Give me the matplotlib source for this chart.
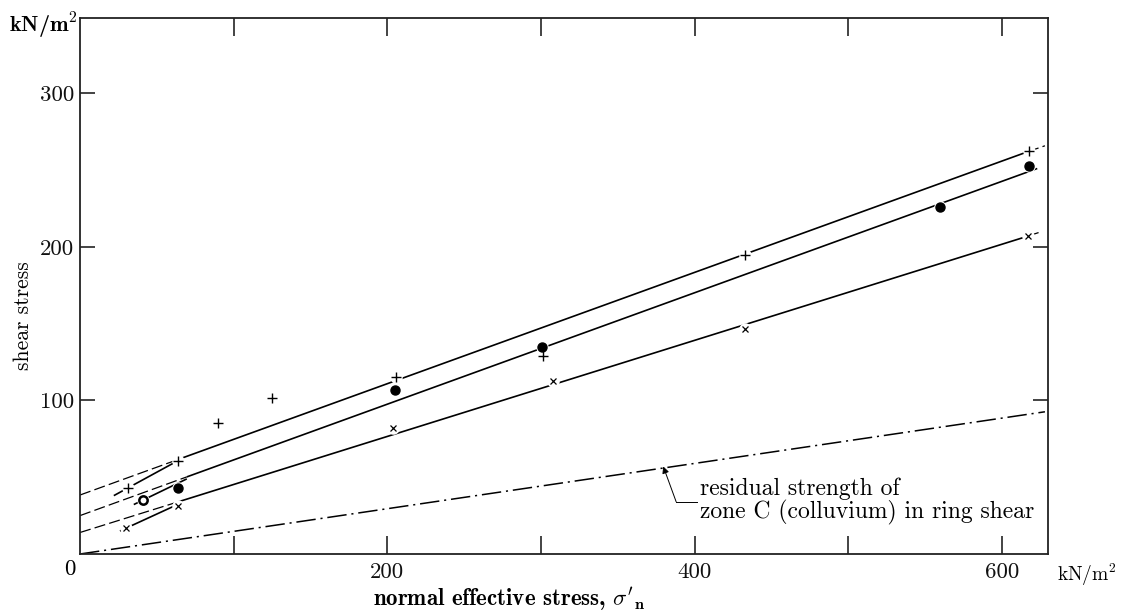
import matplotlib
matplotlib.use('Agg')
import matplotlib.pyplot as plt

plt.rcParams['mathtext.fontset'] = 'cm'
plt.rcParams['axes.formatter.use_mathtext'] = True
plt.rcParams['lines.scale_dashes'] = False
plt.rcParams['font.family'] = ['cmr10', 'DejaVu Serif']

# ---------------- data ----------------
plus_x = [31, 64, 90, 125, 205.5, 301.6, 432.5, 617.6]
plus_y = [43.2, 60.5, 85, 101.6, 115.4, 128.9, 195, 262.6]

dot_x = [64, 205.3, 300.8, 559.7, 617.6]
dot_y = [43, 106.8, 134.8, 226, 252.6]
ring_x = [41]
ring_y = [35]

cross_x = [30, 64, 203.5, 308, 433, 617]
cross_y = [17, 31.5, 82.2, 112.6, 146.7, 207]

# strength envelopes: (x, y) end points of each piece
upper_dash1 = ([0, 64], [38.4, 61.6])
upper_solid = ([64, 617], [61.6, 262])
upper_dash2 = ([617, 628], [262, 265.8])
upper_short = ([22, 60.5], [38, 59])

middle_dash = ([0, 69.5], [25, 50.2])
middle_solid = ([69.5, 623], [50.2, 251])
middle_short = ([35, 69.5], [32.2, 48.9])

lower_dash1 = ([0, 64], [14, 34])
lower_solid = ([64, 617], [34, 207])
lower_dash2 = ([617, 626], [207, 210])
lower_short = ([26, 63], [15, 32])

residual_x = [0, 628]
residual_y = [0, 92.6]

x_major = [200, 400, 600]
x_minor = [100, 300, 500]
x_labels = ['200', '400', '600']
y_ticks = [100, 200, 300]
y_labels = ['100', '200', '300']

annot_text = 'residual strength of\nzone C (colluvium) in ring shear'

# ---------------- figure ----------------
W, H = 1121, 611
fig = plt.figure(figsize=(W / 100, H / 100), dpi=100)
ax = fig.add_axes([80 / W, 1 - 554 / H, (1048 - 80) / W, (554 - 18) / H])
ax.set_xlim(0, 630)
ax.set_ylim(0, 349)

lw = 1.2
dash = (0, (8, 3))
for seg in (upper_dash1, upper_dash2, middle_dash, lower_dash1, lower_dash2):
    ax.plot(*seg, color='black', lw=0.9, linestyle=dash, zorder=2)
for seg in (upper_solid, middle_solid, lower_solid, upper_short, middle_short, lower_short):
    ax.plot(*seg, color='black', lw=lw, solid_capstyle='butt', zorder=2)

ax.plot(residual_x, residual_y, color='black', lw=1.1,
        linestyle=(0, (14, 3.5, 1.5, 3.5)), zorder=2)

# white halos so the lines break around the markers
for xs, ys in ((plus_x, plus_y), (dot_x, dot_y), (cross_x, cross_y), (ring_x, ring_y)):
    ax.plot(xs, ys, linestyle='none', marker='o', ms=9, mfc='white', mec='none', zorder=3)

ax.plot(plus_x, plus_y, linestyle='none', marker='+', ms=7, mew=1.0, color='black', zorder=4)
ax.plot(cross_x, cross_y, linestyle='none', marker='x', ms=5, mew=0.9, color='black', zorder=4)
ax.plot(dot_x, dot_y, linestyle='none', marker='o', ms=6.5, color='black', zorder=4)
ax.plot(ring_x, ring_y, linestyle='none', marker='o', ms=6, mfc='white', mec='black', mew=1.8, zorder=4)

# annotation of residual line
ax.plot([401.5, 388], [34, 34], color='black', lw=0.7)
ax.annotate('', xy=(379.6, 57), xytext=(388, 34),
            arrowprops=dict(arrowstyle='-|>', lw=0.7, color='black',
                            mutation_scale=10, shrinkA=0, shrinkB=0))
ax.text(403.6, 34.5, annot_text, fontsize=17, ha='left', va='center',
        linespacing=0.97, family=['cmr10', 'DejaVu Serif'])

# ---------------- axes styling ----------------
for sp in ax.spines.values():
    sp.set_linewidth(1.3)
    sp.set_color('#222222')

ax.set_xticks(x_major)
ax.set_xticklabels(x_labels)
ax.set_xticks(x_minor, minor=True)
ax.set_yticks(y_ticks)
ax.set_yticklabels(y_labels)
ax.tick_params(axis='both', which='both', direction='in', length=13, width=1.1,
               top=True, right=True, labelsize=16.5, colors='#111111')
ax.tick_params(axis='x', which='major', pad=6)
ax.tick_params(axis='y', which='major', pad=4, length=11)

# corner zero
fig.text(70 / W, 1 - 569 / H, '0', fontsize=16.5, ha='center', va='center')

# units
fig.text(78 / W, 1 - 26 / H, r'kN/m$^\mathbf{2}$', fontsize=16, ha='right', va='center',
         family=['cmb10', 'DejaVu Serif'])
fig.text(1117 / W, 1 - 575 / H, r'kN/m$^2$', fontsize=14, ha='right', va='center')

# axis labels
fig.text(23 / W, 1 - 316 / H, 'shear stress', fontsize=15.5, rotation=90,
         ha='center', va='center')
fig.text(645 / W, 1 - 599 / H, r"normal effective stress, $\sigma'_\mathbf{n}$", fontsize=16.5,
         ha='right', va='center', family=['cmb10', 'DejaVu Serif'])

fig.savefig('out.png', dpi=100)
